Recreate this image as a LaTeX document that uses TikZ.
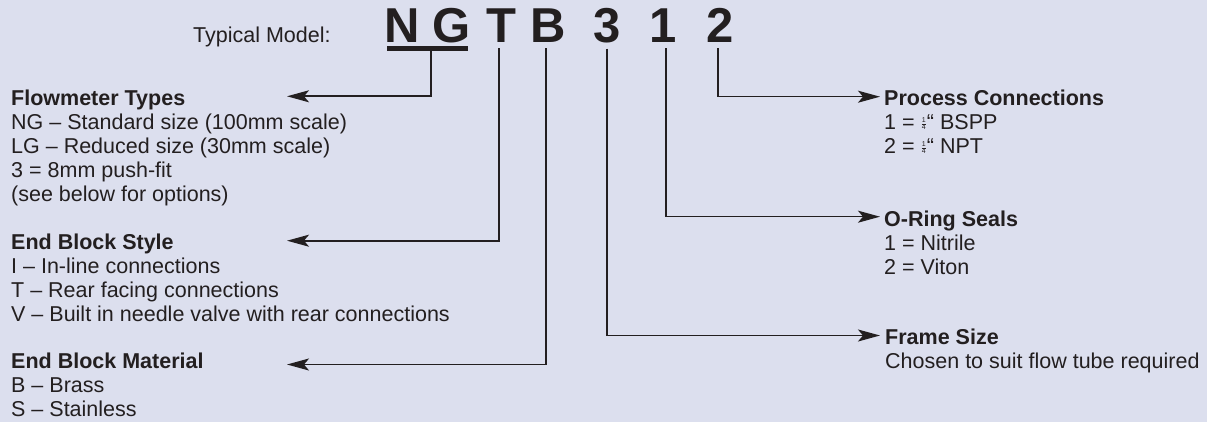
\documentclass[tikz,border=0pt]{standalone}
\usepackage{amsmath}
\usepackage{fontspec}
\setmainfont{Liberation Sans}
\usetikzlibrary{arrows.meta}
\definecolor{bg}{RGB}{220,223,238}
\definecolor{ink}{RGB}{35,31,32}
\newcommand\qfrac{\raisebox{4.5pt}{\fontsize{7}{7}\selectfont$\genfrac{}{}{0.4pt}{1}{\hbox{1}}{\hbox{4}}$}}
\tikzset{
  blk/.style={anchor=base west, inner sep=0pt, align=left, font=\fontsize{21.5}{24}\selectfont, text=ink},
  big/.style={anchor=base, inner sep=0pt, font=\fontsize{49}{49}\selectfont\bfseries, text=ink},
  conn/.style={draw=ink, line width=1.6pt},
  arr/.style={conn, -{Stealth[length=22pt,width=12pt,inset=5pt]}},
}
\begin{document}
\begin{tikzpicture}[x=1pt,y=-1pt]
\useasboundingbox (0,0) rectangle (1207,422);
\fill[bg] (0,0) rectangle (1207,422);
% model code
\node[blk] (tm) at (193,43) {Typical Model:};
\node[big] (N) at (402,43) {N};
\node[big] (G) at (452,43) {G};
\node[big] (T) at (501,43) {T};
\node[big] (B) at (548.5,43) {B};
\node[big] (three) at (607,43) {3};
\node[big] (one) at (663,43) {1};
\node[big] (two) at (720,43) {2};
\node[fill=ink, minimum width=81pt, minimum height=4.5pt, inner sep=0pt] (ul) at (427.5,48.5) {};
% description blocks (anchored at the baseline of their last line)
\node[blk] (ft) at (11,201.5) {\textbf{Flowmeter Types}\\NG – Standard size (100mm scale)\\LG – Reduced size (30mm scale)\\3 = 8mm push-fit\\(see below for options)};
\node[blk] (ebs) at (11,321) {\textbf{End Block Style}\\I – In-line connections\\T – Rear facing connections\\V – Built in needle valve with rear connections};
\node[blk] (ebm) at (11,416.5) {\textbf{End Block Material}\\B – Brass\\S – Stainless};
\node[blk] (pc) at (884,154) {\textbf{Process Connections}\\1 = \qfrac“ BSPP\\2 = \qfrac“ NPT};
\node[blk] (os) at (884,274) {\textbf{O-Ring Seals}\\1 = Nitrile\\2 = Viton};
\node[blk] (fs) at (885,368.5) {\textbf{Frame Size}\\Chosen to suit flow tube required};
% arrow tips
\coordinate (tFT) at (287,96.3);
\coordinate (tEBS) at (287,240.7);
\coordinate (tEBM) at (287,364.5);
\coordinate (tPC) at (880,96.7);
\coordinate (tOS) at (880,216.7);
\coordinate (tFS) at (880,335.5);
% connectors
\draw[arr] ([xshift=3.5pt]ul.south) |- (tFT);
\draw[arr] ([xshift=-2pt,yshift=-5pt]T.south) |- (tEBS);
\draw[arr] ([xshift=-2.5pt,yshift=-5pt]B.south) |- (tEBM);
\draw[arr] ([yshift=-5pt]three.south) |- (tFS);
\draw[arr] ([xshift=3pt,yshift=-5pt]one.south) |- (tOS);
\draw[arr] ([xshift=-2pt,yshift=-5pt]two.south) |- (tPC);
\end{tikzpicture}
\end{document}
